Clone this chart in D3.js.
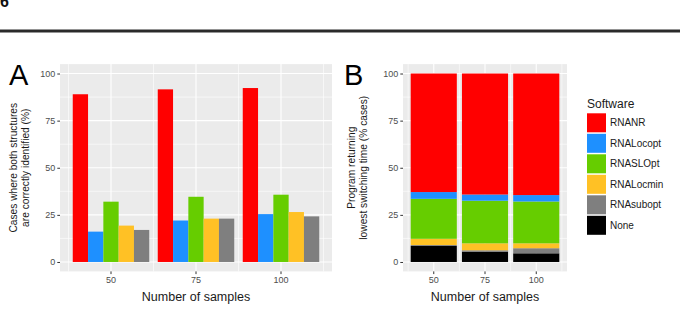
<!DOCTYPE html>
<html>
<head>
<meta charset="utf-8">
<script src="https://cdn.jsdelivr.net/npm/d3@7"></script>
<style>
  body { margin: 0; background: #fff; }
  svg text { font-family: "Liberation Sans", Arial, sans-serif; }
</style>
</head>
<body>
<div id="chart"></div>
<script>
const width = 680, height = 314

// categories
const samples = ["50", "75", "100"]
const software = ["RNANR", "RNALocopt", "RNASLOpt", "RNALocmin", "RNAsubopt", "None"]
const colors = ["#FF0000", "#1E90FF", "#66CD00", "#FFC125", "#7F7F7F", "#000000"]
const yTicks = [0, 25, 50, 75, 100]

// panel A: cases where both structures are correctly identified (%)
const correctRNANR = [89.0, 91.6, 92.3]
const correctRNALocopt = [16.1, 22.0, 25.4]
const correctRNASLOpt = [32.0, 34.6, 35.7]
const correctRNALocmin = [19.3, 23.0, 26.5]
const correctRNAsubopt = [17.0, 23.0, 24.2]

// panel B: program returning lowest switching time (% cases)
const bestRNANR = [62.9, 64.2, 64.5]
const bestRNALocopt = [3.6, 3.3, 3.4]
const bestRNASLOpt = [21.2, 22.6, 22.2]
const bestRNALocmin = [3.3, 3.7, 2.6]
const bestRNAsubopt = [0.5, 0.7, 2.7]
const bestNone = [8.5, 5.5, 4.6]

const seriesA = [correctRNANR, correctRNALocopt, correctRNASLOpt, correctRNALocmin, correctRNAsubopt]
const seriesB = [bestRNANR, bestRNALocopt, bestRNASLOpt, bestRNALocmin, bestRNAsubopt, bestNone]

const svg = d3.select("#chart").append("svg")
    .attr("width", width)
    .attr("height", height)

// cut-off figure header
svg.append("text")
    .attr("x", 0).attr("y", 7)
    .attr("font-size", 16).attr("font-weight", "bold")
    .attr("fill", "#111")
    .text("6")
svg.append("rect")
    .attr("x", 0).attr("y", 29.5)
    .attr("width", width).attr("height", 3)
    .attr("fill", "#2a2a2a")

const plotTop = 64.1, plotBottom = 271.4
const yScale = d3.scaleLinear().domain([-5, 105]).range([plotBottom, plotTop])

function drawPanel(x0, x1, letter, titleLines, titleX) {
    const g = svg.append("g")
    const xScale = d3.scaleBand().domain(samples).range([x0, x1])
        .paddingInner(0.1).paddingOuter(0.15)
    const step = xScale.step()

    g.append("rect")
        .attr("x", x0).attr("y", plotTop)
        .attr("width", x1 - x0).attr("height", plotBottom - plotTop)
        .attr("fill", "#EBEBEB")

    // minor gridlines
    const minorY = yTicks.slice(1).map(d => d - 12.5)
    g.selectAll(".minor-y").data(minorY).enter().append("line")
        .attr("x1", x0).attr("x2", x1)
        .attr("y1", d => yScale(d)).attr("y2", d => yScale(d))
        .attr("stroke", "#fff").attr("stroke-width", 0.6)
    const minorX = samples.map(s => xScale(s) + xScale.bandwidth() / 2 - step / 2)
        .concat([xScale(samples[samples.length - 1]) + xScale.bandwidth() / 2 + step / 2])
    g.selectAll(".minor-x").data(minorX).enter().append("line")
        .attr("y1", plotTop).attr("y2", plotBottom)
        .attr("x1", d => d).attr("x2", d => d)
        .attr("stroke", "#fff").attr("stroke-width", 0.6)

    // major gridlines
    g.selectAll(".major-y").data(yTicks).enter().append("line")
        .attr("x1", x0).attr("x2", x1)
        .attr("y1", d => yScale(d)).attr("y2", d => yScale(d))
        .attr("stroke", "#fff").attr("stroke-width", 1.1)
    g.selectAll(".major-x").data(samples).enter().append("line")
        .attr("y1", plotTop).attr("y2", plotBottom)
        .attr("x1", d => xScale(d) + xScale.bandwidth() / 2)
        .attr("x2", d => xScale(d) + xScale.bandwidth() / 2)
        .attr("stroke", "#fff").attr("stroke-width", 1.1)

    // axes
    const yAxis = g.append("g")
        .attr("transform", "translate(" + x0 + ",0)")
        .call(d3.axisLeft(yScale).tickValues(yTicks).tickSize(2.7).tickPadding(2))
    const xAxis = g.append("g")
        .attr("transform", "translate(0," + plotBottom + ")")
        .call(d3.axisBottom(xScale).tickSize(2.7).tickPadding(3))
    ;[yAxis, xAxis].forEach(a => {
        a.select(".domain").remove()
        a.selectAll("line").attr("stroke", "#333").attr("stroke-width", 1)
        a.selectAll("text").attr("fill", "#4D4D4D").attr("font-size", 9)
            .style("font-family", "'Liberation Sans', Arial, sans-serif")
    })

    g.append("text")
        .attr("x", (x0 + x1) / 2).attr("y", 301)
        .attr("text-anchor", "middle")
        .attr("font-size", 12.5).attr("fill", "#1a1a1a")
        .text("Number of samples")

    const cy = (yScale(0) + yScale(100)) / 2
    titleLines.forEach((t, i) => {
        g.append("text")
            .attr("transform", "translate(" + (titleX + i * 11.7) + "," + cy + ") rotate(-90)")
            .attr("text-anchor", "middle")
            .attr("font-size", 10.2).attr("fill", "#1a1a1a")
            .text(t)
    })

    g.append("text")
        .attr("x", letter.x).attr("y", 85)
        .attr("font-size", 29).attr("fill", "#000")
        .text(letter.t)

    return {g, xScale}
}

// Panel A: dodged bars
const pA = drawPanel(60, 332, {t: "A", x: 9}, ["Cases where both structures", "are correctly identified (%)"], 17)
const inner = d3.scaleBand().domain(d3.range(seriesA.length)).range([0, pA.xScale.bandwidth()])
seriesA.forEach((vals, si) => {
    pA.g.selectAll(".barA" + si).data(vals).enter().append("rect")
        .attr("x", (d, i) => pA.xScale(samples[i]) + inner(si))
        .attr("width", inner.bandwidth())
        .attr("y", d => yScale(d))
        .attr("height", d => yScale(0) - yScale(d))
        .attr("fill", colors[si])
})

// Panel B: stacked bars (None at bottom, RNANR on top)
const pB = drawPanel(403, 567, {t: "B", x: 344}, ["Program returning", "lowest switching time (% cases)"], 355)
const rows = samples.map((s, i) => {
    const r = {sample: s}
    software.forEach((k, si) => { r[k] = seriesB[si][i] })
    return r
})
const stack = d3.stack().keys(software.slice().reverse())(rows)
stack.forEach(layer => {
    const ci = software.indexOf(layer.key)
    pB.g.selectAll(".barB" + ci).data(layer).enter().append("rect")
        .attr("x", d => pB.xScale(d.data.sample))
        .attr("width", pB.xScale.bandwidth())
        .attr("y", d => yScale(d[1]))
        .attr("height", d => yScale(d[0]) - yScale(d[1]))
        .attr("fill", colors[ci])
})

// legend
const legend = svg.append("g").attr("transform", "translate(587,0)")
legend.append("text")
    .attr("x", 0).attr("y", 108)
    .attr("font-size", 12).attr("fill", "#1a1a1a")
    .text("Software")
software.forEach((k, i) => {
    const ky = 113.3 + i * 20.5
    legend.append("rect")
        .attr("x", 0).attr("y", ky)
        .attr("width", 19).attr("height", 19)
        .attr("fill", colors[i])
    legend.append("text")
        .attr("x", 23).attr("y", ky + 13)
        .attr("font-size", 10).attr("fill", "#1a1a1a")
        .text(k)
})
</script>
</body>
</html>
